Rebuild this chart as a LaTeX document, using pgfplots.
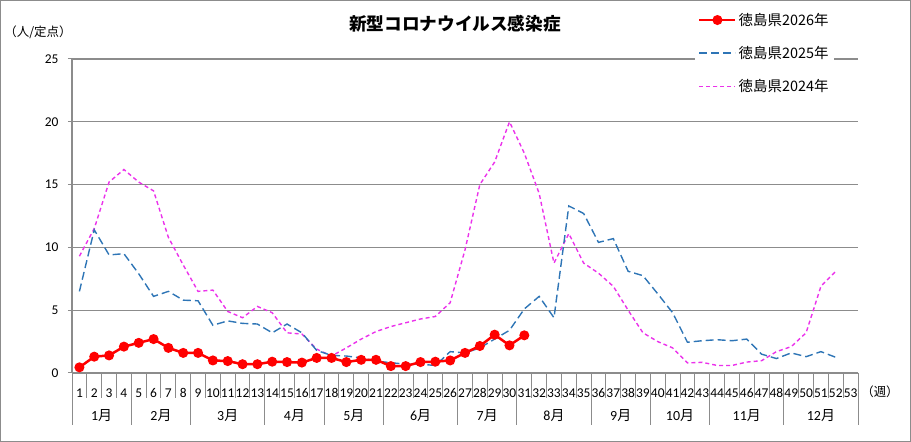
\documentclass[border=0pt]{standalone}
\usepackage{fontspec}
\setmainfont{Carlito}
\newfontfamily\jp{Noto Sans CJK JP}
\usepackage{pgfplots}
\usepackage{pgfplotstable}
\pgfplotsset{compat=1.18}
\definecolor{c26}{RGB}{255,0,0}
\definecolor{c25}{RGB}{46,117,182}
\definecolor{c24}{RGB}{235,50,235}
\definecolor{gridc}{RGB}{140,140,140}
\pgfplotstableread{
w v
1 0.45
2 1.3
3 1.4
4 2.1
5 2.4
6 2.7
7 2.0
8 1.6
9 1.6
10 1.0
11 0.95
12 0.7
13 0.7
14 0.9
15 0.87
16 0.83
17 1.2
18 1.2
19 0.87
20 1.05
21 1.05
22 0.55
23 0.55
24 0.87
25 0.9
26 1.0
27 1.6
28 2.15
29 3.05
30 2.2
31 3.0
}\ytwentysix
\pgfplotstableread{
w v
1 6.5
2 11.4
3 9.4
4 9.5
5 7.9
6 6.1
7 6.5
8 5.8
9 5.75
10 3.8
11 4.15
12 3.95
13 3.9
14 3.2
15 3.9
16 3.2
17 1.8
18 1.4
19 1.35
20 1.2
21 0.95
22 0.82
23 0.7
24 0.7
25 0.6
26 1.7
27 1.6
28 2.0
29 2.7
30 3.4
31 5.1
32 6.1
33 4.4
34 13.3
35 12.7
36 10.4
37 10.7
38 8.1
39 7.75
40 6.3
41 4.8
42 2.45
43 2.57
44 2.65
45 2.57
46 2.7
47 1.5
48 1.15
49 1.6
50 1.3
51 1.7
52 1.25
}\ytwentyfive
\pgfplotstableread{
w v
1 9.3
2 11.5
3 15.2
4 16.2
5 15.2
6 14.5
7 10.8
8 8.6
9 6.5
10 6.6
11 4.9
12 4.4
13 5.3
14 4.8
15 3.2
16 3.1
17 1.9
18 1.35
19 2.0
20 2.7
21 3.3
22 3.7
23 4.0
24 4.3
25 4.5
26 5.6
27 9.8
28 15.0
29 16.8
30 20.0
31 17.5
32 14.3
33 8.75
34 11.1
35 8.75
36 7.95
37 6.9
38 5.0
39 3.2
40 2.5
41 2.0
42 0.8
43 0.85
44 0.6
45 0.6
46 0.87
47 0.98
48 1.7
49 2.1
50 3.2
51 6.9
52 8.1
}\ytwentyfour
\begin{document}
\begin{tikzpicture}[x=1bp,y=1bp]
\begin{axis}[
  at={(72bp,69bp)}, anchor=south west,
  scale only axis, width=786bp, height=314bp,
  xmin=0.5, xmax=53.5, ymin=0, ymax=25,
  xtick={1,...,53}, ytick={0,5,10,15,20,25},
  axis x line*=bottom, axis y line*=left,
  axis line style={-, gridc, line width=1.2bp},
  ymajorgrids, grid style={gridc, line width=1.2bp},
  xtick style={draw=none},
  ytick style={gridc, line width=1bp},
  tick align=outside, major tick length=4bp,
  /pgf/number format/assume math mode=true,
  xticklabel style={font=\fontsize{13.5}{13.5}\selectfont, anchor=center, yshift=-16bp},
  yticklabel style={font=\fontsize{13.5}{13.5}\selectfont, xshift=-6bp},
  reverse legend,
  legend style={at={(0.7926,1.172)}, anchor=north west, draw=none, fill=white,
    font=\jp\fontsize{14.5}{14.5}\selectfont, row sep=15.5bp, inner xsep=3bp, inner ysep=6bp,
    cells={anchor=west}},
  legend image code/.code={\draw[#1, mark repeat=2, mark phase=2] plot coordinates {(0bp,0bp)(18bp,0bp)(36bp,0bp)};},
]
\addplot[c24, line width=1.4bp, dash pattern=on 4bp off 3bp] table[x=w,y=v] {\ytwentyfour};
\addlegendentry{徳島県2024年}
\addplot[c25, line width=1.4bp, dash pattern=on 8bp off 4bp] table[x=w,y=v] {\ytwentyfive};
\addlegendentry{徳島県2025年}
\addplot[c26, line width=2.5bp, mark=*, mark size=3.7bp, mark options={solid}] table[x=w,y=v] {\ytwentysix};
\addlegendentry{徳島県2026年}
\end{axis}
\draw[gridc, line width=1.2bp] (0.6bp,0.6bp) rectangle (910.4bp,441.4bp);
\foreach \i in {0,...,53} \draw[gridc, line width=1bp] ({(72+\i*14.8302)*1bp},69bp) -- ++(0,-25bp);
\foreach \i in {0,4,8,13,17,21,26,30,35,39,43,48,53} \draw[gridc, line width=1bp] ({(72+\i*14.8302)*1bp},69bp) -- ++(0,-52bp);
\foreach \a/\b/\m in {0/4/1,4/8/2,8/13/3,13/17/4,17/21/5,21/26/6,26/30/7,30/35/8,35/39/9,39/43/10,43/48/11,48/53/12}
  \node[font=\fontsize{14}{14}\selectfont] at ({(72+(\a+\b)/2*14.8302)*1bp},26bp) {\m{\jp 月}};
\node[font=\jp\fontsize{12.5}{12.5}\selectfont] at (880bp,50bp) {（週）};
\node[font=\jp\fontsize{12.5}{12.5}\selectfont] at (38bp,410bp) {（人/定点）};
\node[font=\jp\bfseries\fontsize{17.7}{17.7}\selectfont] at (455bp,418bp) {新型コロナウイルス感染症};
\end{tikzpicture}
\end{document}
